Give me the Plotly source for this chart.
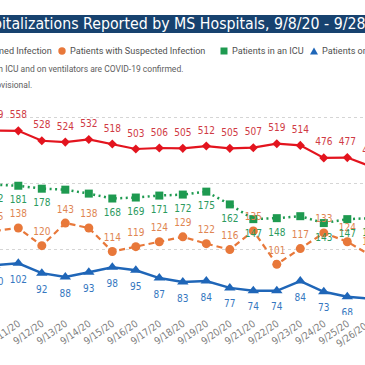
import plotly.graph_objects as go

# ---------------- data ----------------
dates = ["9/10/20", "9/11/20", "9/12/20", "9/13/20", "9/14/20", "9/15/20", "9/16/20",
         "9/17/20", "9/18/20", "9/19/20", "9/20/20", "9/21/20", "9/22/20", "9/23/20",
         "9/24/20", "9/25/20", "9/26/20"]
confirmed = [559, 558, 528, 524, 532, 518, 503, 506, 505, 512, 505, 507, 519, 514, 476, 477, 450]
suspected = [135, 138, 120, 143, 138, 114, 119, 124, 129, 122, 116, 135, 101, 117, 133, 124, 110]
icu = [182, 181, 178, 177, 173, 168, 169, 171, 172, 175, 162, 147, 148, 150, 143, 147, 148]
ventilators = [100, 102, 92, 88, 93, 98, 95, 87, 83, 84, 77, 74, 74, 84, 73, 68, 66]
icu_hidden_labels = ["9/13/20", "9/14/20", "9/23/20"]

series_names = ["Patients with Confirmed Infection", "Patients with Suspected Infection",
                "Patients in an ICU", "Patients on Ventilators"]
title_text = "COVID-19 Hospitalizations Reported by MS Hospitals, 9/8/20 - 9/28/20"
note1 = "Patients in ICU and on ventilators are COVID-19 confirmed."
note2 = "Data are provisional."

# ---------------- style ----------------
W = H = 365
MT, MB = 100, 50
PH = H - MT - MB
RED, ORANGE, GREEN, BLUE = "#E3141E", "#E8783A", "#1E9A50", "#1F66B8"
RED_T, ORANGE_T, GREEN_T, BLUE_T = "#D03A44", "#E08552", "#2C9A5E", "#3577C0"
LBL_FONT = "DejaVu Sans Condensed"


def px2x(px):
    return px / W


def py2y(py):
    return (H - MB - py) / PH


fig = go.Figure()

# main series
fig.add_trace(go.Scatter(x=dates, y=confirmed, name=series_names[0], mode="lines+markers",
                         line=dict(color=RED, width=2.2),
                         marker=dict(symbol="diamond", size=7, color=RED), yaxis="y"))
fig.add_trace(go.Scatter(x=dates, y=suspected, name=series_names[1], mode="lines+markers",
                         line=dict(color=ORANGE, width=2.2, dash="6px,4px"),
                         marker=dict(symbol="circle", size=9, color=ORANGE), yaxis="y2"))
fig.add_trace(go.Scatter(x=dates, y=icu, name=series_names[2], mode="lines+markers",
                         line=dict(color=GREEN, width=2.5, dash="2px,3.5px"),
                         marker=dict(symbol="square", size=8, color=GREEN), yaxis="y2"))
fig.add_trace(go.Scatter(x=dates, y=ventilators, name=series_names[3], mode="lines+markers",
                         line=dict(color=BLUE, width=2.5),
                         marker=dict(symbol="triangle-up", size=10, color=BLUE), yaxis="y2"))


def label_trace(vals, color, pos, msize, axis, hidden=()):
    txt = ["" if d in hidden else str(v) for d, v in zip(dates, vals)]
    return go.Scatter(x=dates, y=vals, mode="markers+text", text=txt, textposition=pos,
                      textfont=dict(family=LBL_FONT, size=10, color=color),
                      marker=dict(size=msize, opacity=0), hoverinfo="skip", yaxis=axis)


fig.add_trace(label_trace(confirmed, RED_T, "top center", 14.4, "y"))
fig.add_trace(label_trace(suspected, ORANGE_T, "top center", 11.2, "y2"))
fig.add_trace(label_trace(icu, GREEN_T, "bottom center", 14.4, "y2", icu_hidden_labels))
fig.add_trace(label_trace(ventilators, BLUE_T, "bottom center", 17.6, "y2"))

shapes = [
    dict(type="rect", xref="paper", yref="paper", x0=px2x(-5), x1=px2x(370),
         y0=py2y(33), y1=py2y(15), fillcolor="#17426F", line=dict(width=0), layer="above"),
    dict(type="circle", xref="paper", yref="paper", x0=px2x(58.3), x1=px2x(65.7),
         y0=py2y(54.7), y1=py2y(47.3), fillcolor=ORANGE, line=dict(width=0)),
    dict(type="rect", xref="paper", yref="paper", x0=px2x(220.5), x1=px2x(227.5),
         y0=py2y(54.5), y1=py2y(47.5), fillcolor=GREEN, line=dict(width=0)),
    dict(type="path", xref="paper", yref="paper",
         path="M {} {} L {} {} L {} {} Z".format(px2x(310), py2y(54.5), px2x(318), py2y(54.5),
                                                  px2x(314), py2y(47.5)),
         fillcolor=BLUE, line=dict(width=0)),
]

LEG_FONT = dict(family="Roboto", size=9.1, color="#505050")
NOTE_FONT = dict(family="Roboto", size=8.5, color="#606060")
annotations = [
    dict(text=title_text, xref="paper", yref="paper", x=px2x(390), y=py2y(24),
         xanchor="right", yanchor="middle", showarrow=False,
         font=dict(family=LBL_FONT, size=15.75, color="white")),
    dict(text=series_names[0], xref="paper", yref="paper", x=px2x(54), y=py2y(51),
         xanchor="right", yanchor="middle", showarrow=False, font=LEG_FONT),
    dict(text=series_names[1], xref="paper", yref="paper", x=px2x(68), y=py2y(51),
         xanchor="left", yanchor="middle", showarrow=False, font=LEG_FONT),
    dict(text=series_names[2], xref="paper", yref="paper", x=px2x(230), y=py2y(51),
         xanchor="left", yanchor="middle", showarrow=False, font=LEG_FONT),
    dict(text=series_names[3], xref="paper", yref="paper", x=px2x(320), y=py2y(51),
         xanchor="left", yanchor="middle", showarrow=False, font=LEG_FONT),
    dict(text=note1, xref="paper", yref="paper", x=px2x(185), y=py2y(69),
         xanchor="right", yanchor="middle", showarrow=False, font=NOTE_FONT),
    dict(text=note2, xref="paper", yref="paper", x=px2x(34), y=py2y(85),
         xanchor="right", yanchor="middle", showarrow=False, font=NOTE_FONT),
    # last tick label, whose tick sits just past the right edge
    dict(text=dates[-1], xref="paper", yref="paper", x=px2x(372), y=py2y(317),
         xanchor="right", yanchor="top", showarrow=False, textangle=-35,
         font=dict(family=LBL_FONT, size=10, color="#808080")),
]

fig.update_layout(
    width=W, height=H, margin=dict(l=0, r=0, t=MT, b=MB, autoexpand=False),
    paper_bgcolor="white", plot_bgcolor="white", showlegend=False,
    shapes=shapes, annotations=annotations,
    xaxis=dict(type="category", categoryorder="array", categoryarray=dates,
               range=[0.221, 15.753], showgrid=False, showline=False, zeroline=False,
               tickangle=-35, ticks="", tickfont=dict(family=LBL_FONT, size=10, color="#808080")),
    yaxis=dict(range=[0, 651.5], tickvals=[0, 200, 400, 600], showticklabels=False,
               showgrid=True, gridcolor="#D5D5D5", griddash="dot", gridwidth=1,
               zeroline=False, showline=False),
    yaxis2=dict(range=[49.4, 268.3], overlaying="y", side="right", showgrid=False,
                showticklabels=False, zeroline=False, showline=False),
)

fig.write_html("out.html", config={"displayModeBar": False},
               post_script="document.body.style.margin='0px';")
